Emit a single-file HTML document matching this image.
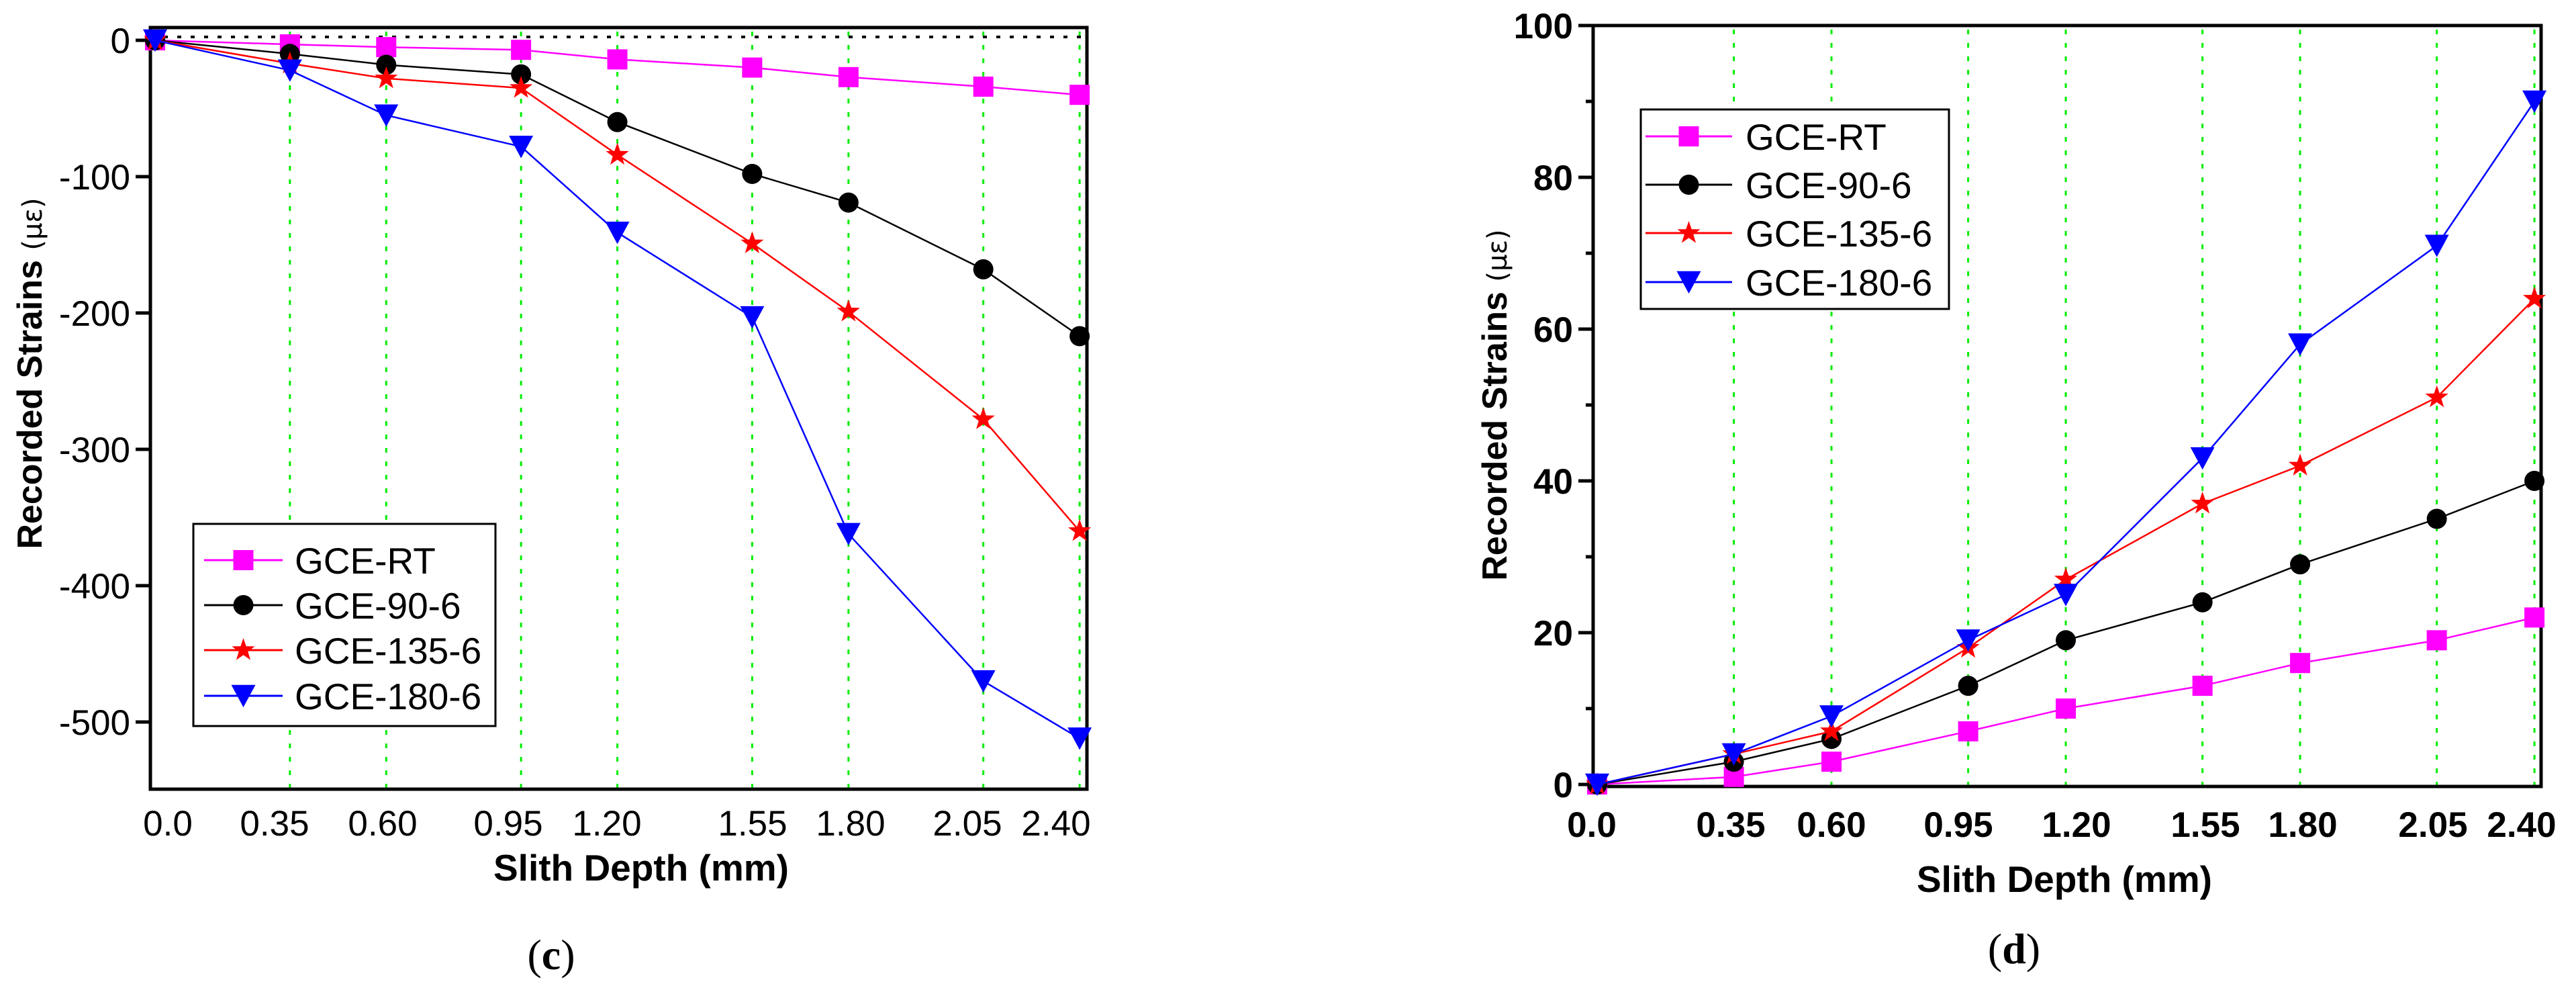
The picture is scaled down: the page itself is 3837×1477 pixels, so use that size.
<!DOCTYPE html>
<html><head><meta charset="utf-8"><style>
html,body{margin:0;padding:0;background:#fff;}
svg{display:block;font-family:"Liberation Sans",sans-serif;}
</style></head><body>
<svg id="fig" width="3837" height="1477" viewBox="0 0 3837 1477" xmlns="http://www.w3.org/2000/svg">
<g id="chartC"></g>
<g id="chartD"></g>
</svg>
<script>
const seriesNames = ["GCE-RT","GCE-90-6","GCE-135-6","GCE-180-6"];
const xLabels = ["0.0","0.35","0.60","0.95","1.20","1.55","1.80","2.05","2.40"];
const xValues = [0,0.35,0.6,0.95,1.2,1.55,1.8,2.15,2.4];
const cRT = [0,-3,-5,-7,-14,-20,-27,-34,-40];
const c90 = [0,-10,-18,-25,-60,-98,-119,-168,-217];
const c135 = [0,-17,-28,-35,-84,-149,-199,-278,-360];
const c180 = [0,-22,-55,-78,-141,-203,-362,-470,-512];
const cYTicks = [0,-100,-200,-300,-400,-500];
const dRT = [0,1,3,7,10,13,16,19,22];
const d90 = [0,3,6,13,19,24,29,35,40];
const d135 = [0,4,7,18,27,37,42,51,64];
const d180 = [0,4,9,19,25,43,58,71,90];
const dYTicks = [0,20,40,60,80,100];
const dYMinor = [10,30,50,70,90];

const NS="http://www.w3.org/2000/svg";
const colors=["#ff00ff","#000000","#ff0000","#0000ff"];
const shapes=["square","circle","star","tri"];
function mk(parent,tag,attrs,text){const e=document.createElementNS(NS,tag);for(const k in attrs)e.setAttribute(k,attrs[k]);if(text!==undefined)e.textContent=text;parent.appendChild(e);return e;}
function marker(g,shape,x,y,c,s){
  let e;
  if(shape==="square"){e=mk(g,"rect",{x:x-s/2,y:y-s/2,width:s,height:s,fill:c});}
  else if(shape==="circle"){e=mk(g,"circle",{cx:x,cy:y,r:s/2,fill:c});}
  else if(shape==="star"){let p=[];for(let i=0;i<10;i++){const r=i%2?s*0.24:s*0.6;const a=-Math.PI/2+i*Math.PI/5;p.push((x+r*Math.cos(a)).toFixed(1)+","+(y+r*Math.sin(a)).toFixed(1));}e=mk(g,"polygon",{points:p.join(" "),fill:c});}
  else {const h=s*0.6;e=mk(g,"polygon",{points:`${x-h},${y-h*0.9} ${x+h},${y-h*0.9} ${x},${y+h*0.95}`,fill:c});}
  return e;
}
function drawChart(g,cfg){
  const X=v=>cfg.x0+v*cfg.kx, Y=v=>cfg.y0-v*cfg.ky;
  // gridlines
  xValues.forEach((v,i)=>{ if(i===0) return;
    const l=mk(g,"line",{x1:X(v),x2:X(v),y1:cfg.top+6,y2:cfg.bottom,stroke:"#00ee00","stroke-width":3,"stroke-dasharray":"7 13"});
    
    
  });
  if(cfg.zeroLine){const z=mk(g,"line",{x1:cfg.left,x2:cfg.right,y1:cfg.zeroLine,y2:cfg.zeroLine,stroke:"#000","stroke-width":4,"stroke-dasharray":"6 14"});
    
    }
  // frame
  const f=mk(g,"rect",{x:cfg.left,y:cfg.top,width:cfg.right-cfg.left,height:cfg.bottom-cfg.top,fill:"none",stroke:"#000","stroke-width":5});
  
  
  // y ticks
  cfg.yTicks.forEach(v=>{
    mk(g,"line",{x1:cfg.left-22,x2:cfg.left,y1:Y(v),y2:Y(v),stroke:"#000","stroke-width":5});
    const t=mk(g,"text",{x:cfg.left-30,y:Y(v)+19,"text-anchor":"end","font-size":53,"font-weight":cfg.bold?"bold":"normal"},v);
    
    
  });
  (cfg.yMinor||[]).forEach(v=>{mk(g,"line",{x1:cfg.left-11,x2:cfg.left,y1:Y(v),y2:Y(v),stroke:"#000","stroke-width":5});});
  // x labels
  xLabels.forEach((s,i)=>{
    const t=mk(g,"text",{x:cfg.xLabelPos[i],y:cfg.xLabelY,"text-anchor":"middle","font-size":53,"font-weight":cfg.bold?"bold":"normal"},s);
    
    
  });
  // series
  cfg.series.forEach((arr,si)=>{
    const sg=mk(g,"g",{});
    
    
    const pts=arr.map((v,i)=>X(xValues[i]).toFixed(1)+","+Y(v).toFixed(1)).join(" ");
    mk(sg,"polyline",{points:pts,fill:"none",stroke:colors[si],"stroke-width":2.5});
    arr.forEach((v,i)=>{const m=marker(sg,shapes[si],X(xValues[i]),Y(v),colors[si],30);
      
      });
  });
  // legend
  const lg=mk(g,"g",{});
  
  
  const L=cfg.legend;
  mk(lg,"rect",{x:L.x,y:L.y,width:L.w,height:L.h,fill:"#fff",stroke:"#000","stroke-width":3});
  seriesNames.forEach((n,i)=>{
    const ey=L.rows[i];
    const e=mk(lg,"g",{});
    
    
    mk(e,"line",{x1:L.lx1,x2:L.lx2,y1:ey,y2:ey,stroke:colors[i],"stroke-width":3});
    marker(e,shapes[i],(L.lx1+L.lx2)/2,ey,colors[i],30);
    mk(e,"text",{x:L.tx,y:ey+20,"font-size":55},n);
  });
  // titles
  const yt=mk(g,"text",{x:0,y:0,transform:`translate(${cfg.yTitleX},${cfg.yTitleY}) rotate(-90)`,"text-anchor":"middle","font-size":52,"font-weight":"bold"});
  
  
  mk(yt,"tspan",{},"Recorded Strains ");
  mk(yt,"tspan",{"font-weight":"normal","font-size":40,"font-family":"'DejaVu Sans',sans-serif"},"(με)");
  const xt=mk(g,"text",{x:cfg.xTitleX,y:cfg.xTitleY,"text-anchor":"middle","font-size":55,"font-weight":"bold"},"Slith Depth (mm)");
  
  
  const pl=mk(g,"text",{x:cfg.panelX,y:cfg.panelY,"text-anchor":"middle","font-size":64,"font-family":"'Liberation Serif',serif"});
  
  
  mk(pl,"tspan",{},"(");
  mk(pl,"tspan",{"font-weight":"bold"},cfg.panel);
  mk(pl,"tspan",{},")");
}
drawChart(document.getElementById("chartC"),{
  left:224,right:1619,top:41,bottom:1175,x0:231,kx:573.8,y0:60,ky:2.03,zeroLine:55,
  yTicks:cYTicks,bold:false,
  xLabelPos:[250,409,570,757,904,1121,1267,1441,1573],xLabelY:1244,
  series:[cRT,c90,c135,c180],
  legend:{x:288,y:780,w:450,h:301,rows:[834,901,968,1036],lx1:304,lx2:421,tx:439},
  yTitleX:62,yTitleY:556,xTitleX:955,xTitleY:1311,panel:"c",panelX:821,panelY:1443
});
drawChart(document.getElementById("chartD"),{
  left:2373,right:3785,top:38,bottom:1171,x0:2379,kx:581.7,y0:1168,ky:11.3,zeroLine:null,
  yTicks:dYTicks,yMinor:dYMinor,bold:true,
  xLabelPos:[2371,2578,2728,2917,3093,3285,3430,3624,3756],xLabelY:1246,
  series:[dRT,d90,d135,d180],
  legend:{x:2444,y:163,w:459,h:297,rows:[203,275,347,420],lx1:2451,lx2:2580,tx:2600},
  yTitleX:2244,yTitleY:603,xTitleX:3075,xTitleY:1328,panel:"d",panelX:3000,panelY:1434
});
</script>
</body></html>
